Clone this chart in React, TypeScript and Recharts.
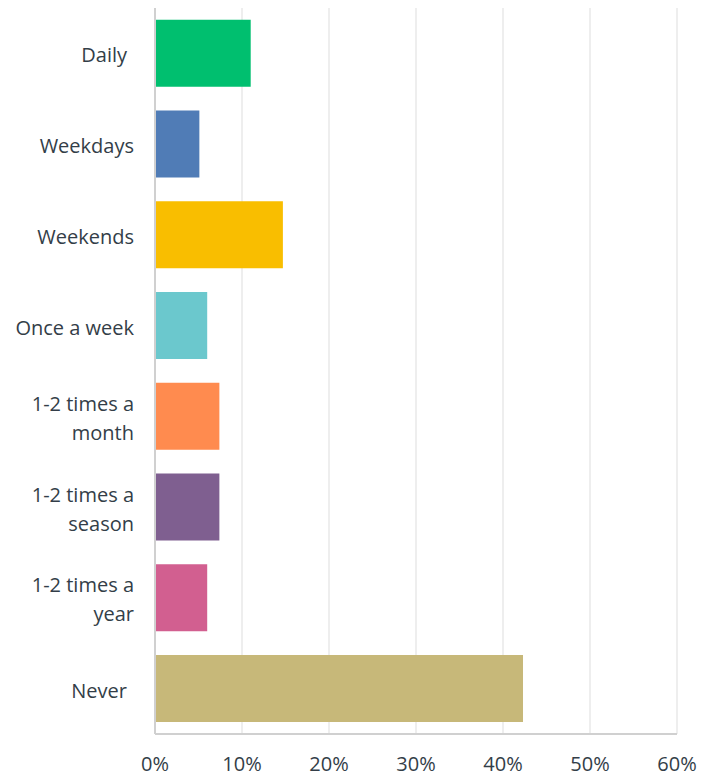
import { BarChart, Bar, XAxis, YAxis, CartesianGrid, Cell } from "recharts";

const categories = [
  "Daily",
  "Weekdays",
  "Weekends",
  "Once a week",
  "1-2 times a month",
  "1-2 times a season",
  "1-2 times a year",
  "Never",
];
const values = [11.0, 5.1, 14.7, 6.0, 7.4, 7.4, 6.0, 42.3];
const colors = ["#00bf6f", "#507cb6", "#f9be00", "#6bc8cd", "#ff8b4f", "#7f5f90", "#d25f90", "#c7b879"];
const xTicks = [0, 10, 20, 30, 40, 50, 60];

const data = categories.map((name, i) => ({ name, value: values[i] }));

const FONT = "'Open Sans', sans-serif";
const TEXT = "#333e48";

// split "1-2 times a month" -> ["1-2 times a", "month"]
function wrap(label: string): string[] {
  if (label.length <= 12) return [label];
  const words = label.split(" ");
  const lines: string[] = [];
  let cur = "";
  words.forEach((w) => {
    const next = cur ? cur + " " + w : w;
    if (next.length > 11 && cur) {
      lines.push(cur);
      cur = w;
    } else {
      cur = next;
    }
  });
  if (cur) lines.push(cur);
  return lines;
}

function CategoryTick({ x, y, payload }: any) {
  const lines = wrap(payload.value);
  const lh = 29;
  const start = -((lines.length - 1) * lh) / 2;
  const shortOnes = payload.value === "Daily" || payload.value === "Never";
  const tx = x - 13 - (shortOnes ? 7 : 0);
  return (
    <text x={tx} y={y} textAnchor="end" fill={TEXT} fontSize={20} fontFamily={FONT}>
      {lines.map((l, i) => (
        <tspan key={i} x={tx} dy={i === 0 ? start + 9 : lh}>
          {l}
        </tspan>
      ))}
    </text>
  );
}

export default function App() {
  return (
    <div style={{ position: "absolute", left: 0, top: 0, background: "#fff" }}>
      <BarChart
        width={703}
        height={776}
        data={data}
        layout="vertical"
        margin={{ top: 8, right: 26, left: 0, bottom: 0 }}
        barCategoryGap="13%"
      >
        <CartesianGrid horizontal={false} stroke="#e9e9e9" strokeWidth={1.5} />
        <XAxis
          type="number"
          domain={[0, 60]}
          ticks={xTicks}
          tickFormatter={(v) => `${v}%`}
          height={42}
          axisLine={{ stroke: "#d0d0d0", strokeWidth: 2 }}
          tickLine={false}
          tick={{ fontSize: 20, fill: TEXT, fontFamily: FONT }}
          tickMargin={17}
          interval={0}
        />
        <YAxis
          type="category"
          dataKey="name"
          width={155}
          axisLine={{ stroke: "#d0d0d0", strokeWidth: 2 }}
          tickLine={false}
          tick={<CategoryTick />}
          interval={0}
        />
        <Bar dataKey="value" isAnimationActive={false}>
          {data.map((d, i) => (
            <Cell key={d.name} fill={colors[i]} />
          ))}
        </Bar>
      </BarChart>
    </div>
  );
}
